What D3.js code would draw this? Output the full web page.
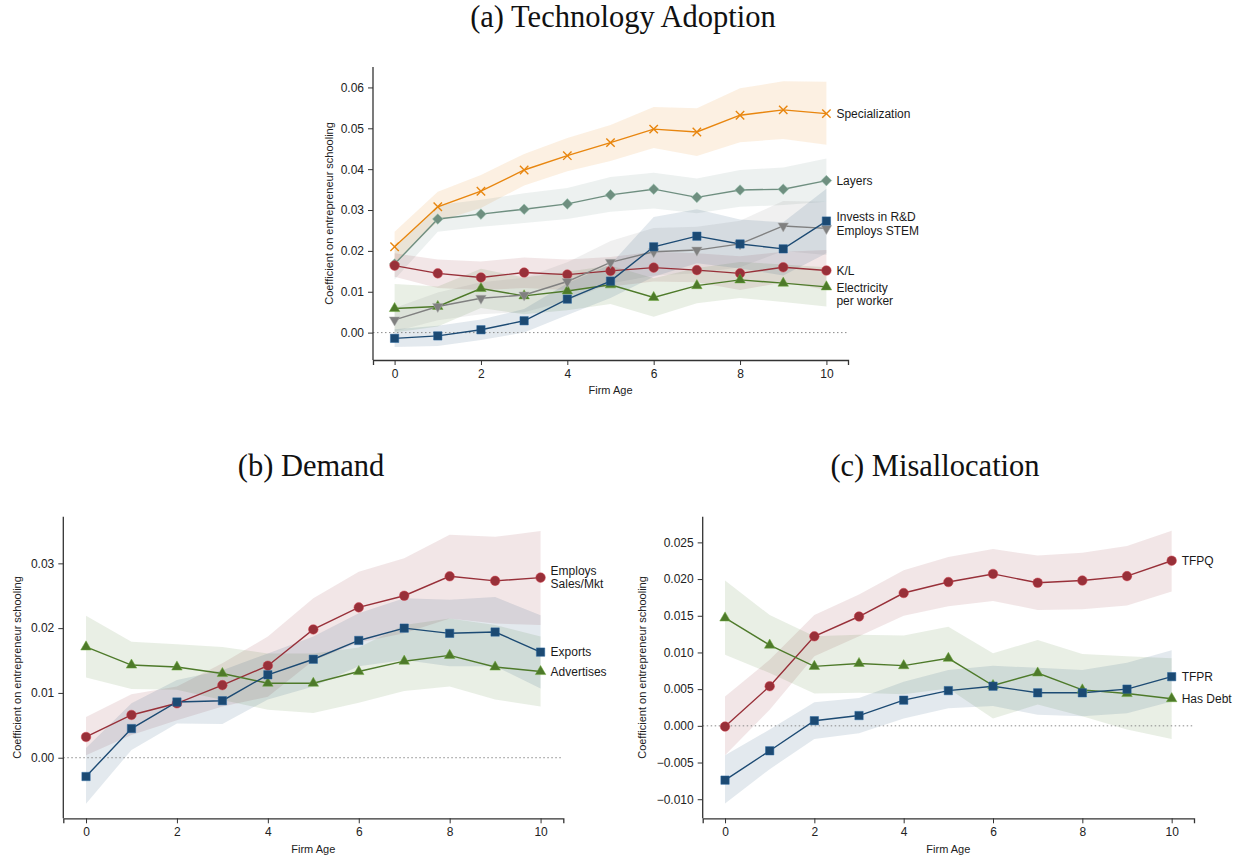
<!DOCTYPE html>
<html>
<head>
<meta charset="utf-8">
<script src="https://cdn.jsdelivr.net/npm/d3@7"></script>
<style>
  html, body { margin: 0; padding: 0; background: #fff; }
  svg { display: block; }
</style>
</head>
<body>
<svg id="chart" width="1244" height="857"></svg>
<script>
// Firm age (years since entry)
const firmAge = [0, 1, 2, 3, 4, 5, 6, 7, 8, 9, 10];

// ---- (a) Technology Adoption: coefficient, lower CI, upper CI ----
const specialization   = [0.0210, 0.0308, 0.0346, 0.0398, 0.0433, 0.0465, 0.0498, 0.0491, 0.0532, 0.0545, 0.0536];
const specializationLo = [0.0170, 0.0272, 0.0305, 0.0360, 0.0395, 0.0420, 0.0452, 0.0432, 0.0466, 0.0474, 0.0460];
const specializationHi = [0.0247, 0.0345, 0.0386, 0.0437, 0.0476, 0.0508, 0.0552, 0.0549, 0.0598, 0.0615, 0.0614];

const layers   = [0.0168, 0.0278, 0.0290, 0.0302, 0.0315, 0.0337, 0.0351, 0.0331, 0.0349, 0.0351, 0.0372];
const layersLo = [0.0130, 0.0247, 0.0259, 0.0268, 0.0278, 0.0296, 0.0304, 0.0292, 0.0308, 0.0312, 0.0320];
const layersHi = [0.0206, 0.0312, 0.0325, 0.0341, 0.0354, 0.0381, 0.0391, 0.0377, 0.0398, 0.0404, 0.0426];

const capitalLabor   = [0.0164, 0.0145, 0.0135, 0.0147, 0.0142, 0.0151, 0.0159, 0.0153, 0.0145, 0.0160, 0.0152];
const capitalLaborLo = [0.0137, 0.0109, 0.0104, 0.0109, 0.0104, 0.0113, 0.0125, 0.0123, 0.0104, 0.0123, 0.0105];
const capitalLaborHi = [0.0194, 0.0179, 0.0174, 0.0184, 0.0179, 0.0185, 0.0198, 0.0194, 0.0187, 0.0198, 0.0202];

const investsRD   = [-0.0014, -0.0008, 0.0007, 0.0029, 0.0082, 0.0126, 0.0210, 0.0236, 0.0217, 0.0205, 0.0273];
const investsRDLo = [-0.0035, -0.0033, -0.0018, 0.0000, 0.0043, 0.0085, 0.0137, 0.0170, 0.0157, 0.0140, 0.0194];
const investsRDHi = [0.0008, 0.0017, 0.0032, 0.0058, 0.0121, 0.0167, 0.0283, 0.0302, 0.0277, 0.0270, 0.0352];

const employsSTEM   = [0.0031, 0.0064, 0.0084, 0.0092, 0.0125, 0.0172, 0.0198, 0.0202, 0.0217, 0.0261, 0.0255];
const employsSTEMLo = [0.0003, 0.0030, 0.0045, 0.0050, 0.0078, 0.0120, 0.0140, 0.0145, 0.0160, 0.0200, 0.0190];
const employsSTEMHi = [0.0060, 0.0098, 0.0123, 0.0134, 0.0172, 0.0224, 0.0256, 0.0259, 0.0274, 0.0322, 0.0320];

const electricity   = [0.0059, 0.0064, 0.0108, 0.0090, 0.0102, 0.0117, 0.0086, 0.0115, 0.0129, 0.0121, 0.0112];
const electricityLo = [0.0000, 0.0015, 0.0060, 0.0045, 0.0055, 0.0070, 0.0039, 0.0072, 0.0085, 0.0075, 0.0064];
const electricityHi = [0.0119, 0.0113, 0.0156, 0.0135, 0.0149, 0.0164, 0.0133, 0.0158, 0.0173, 0.0167, 0.0160];

// ---- (b) Demand ----
const salesMkt   = [0.0032, 0.0066, 0.0084, 0.0112, 0.0142, 0.0198, 0.0232, 0.0250, 0.0280, 0.0273, 0.0278];
const salesMktLo = [0.0004, 0.0035, 0.0058, 0.0079, 0.0094, 0.0150, 0.0178, 0.0192, 0.0215, 0.0207, 0.0205];
const salesMktHi = [0.0063, 0.0098, 0.0110, 0.0146, 0.0187, 0.0246, 0.0287, 0.0308, 0.0344, 0.0341, 0.0350];

const exportsCoef = [-0.0029, 0.0045, 0.0086, 0.0088, 0.0128, 0.0152, 0.0181, 0.0200, 0.0192, 0.0194, 0.0163];
const exportsLo   = [-0.0071, 0.0012, 0.0053, 0.0052, 0.0090, 0.0110, 0.0141, 0.0151, 0.0141, 0.0141, 0.0107];
const exportsHi   = [0.0015, 0.0084, 0.0120, 0.0135, 0.0161, 0.0187, 0.0223, 0.0246, 0.0244, 0.0248, 0.0220];

const advertises   = [0.0171, 0.0143, 0.0140, 0.0130, 0.0115, 0.0115, 0.0133, 0.0149, 0.0158, 0.0140, 0.0133];
const advertisesLo = [0.0124, 0.0106, 0.0105, 0.0089, 0.0074, 0.0069, 0.0085, 0.0103, 0.0110, 0.0090, 0.0079];
const advertisesHi = [0.0219, 0.0179, 0.0175, 0.0171, 0.0161, 0.0161, 0.0170, 0.0205, 0.0215, 0.0205, 0.0187];

// ---- (c) Misallocation ----
const tfpq   = [-0.0001, 0.0054, 0.0122, 0.0149, 0.0181, 0.0196, 0.0207, 0.0195, 0.0198, 0.0204, 0.0225];
const tfpqLo = [-0.0040, 0.0022, 0.0095, 0.0122, 0.0150, 0.0163, 0.0170, 0.0158, 0.0159, 0.0164, 0.0183];
const tfpqHi = [0.0040, 0.0090, 0.0151, 0.0179, 0.0212, 0.0230, 0.0241, 0.0232, 0.0236, 0.0245, 0.0266];

const tfpr   = [-0.0074, -0.0034, 0.0007, 0.0014, 0.0035, 0.0048, 0.0054, 0.0045, 0.0045, 0.0050, 0.0067];
const tfprLo = [-0.0106, -0.0059, -0.0018, -0.0010, 0.0010, 0.0024, 0.0027, 0.0015, 0.0013, 0.0017, 0.0033];
const tfprHi = [-0.0040, -0.0005, 0.0032, 0.0038, 0.0060, 0.0076, 0.0082, 0.0079, 0.0076, 0.0086, 0.0103];

const hasDebt   = [0.0147, 0.0110, 0.0081, 0.0085, 0.0082, 0.0092, 0.0055, 0.0072, 0.0049, 0.0044, 0.0037];
const hasDebtLo = [0.0097, 0.0072, 0.0044, 0.0045, 0.0043, 0.0051, 0.0010, 0.0029, 0.0013, -0.0005, -0.0018];
const hasDebtHi = [0.0198, 0.0151, 0.0122, 0.0124, 0.0123, 0.0135, 0.0099, 0.0117, 0.0098, 0.0095, 0.0092];

// Tick values
const xTicks  = [0, 2, 4, 6, 8, 10];
const yTicksA = [0, 0.01, 0.02, 0.03, 0.04, 0.05, 0.06];
const yTicksB = [0, 0.01, 0.02, 0.03];
const yTicksC = [-0.010, -0.005, 0, 0.005, 0.010, 0.015, 0.020, 0.025];

// Titles and axis labels
const titles = ["(a) Technology Adoption", "(b) Demand", "(c) Misallocation"];
const xLabel = "Firm Age";
const yLabel = "Coefficient on entrepreneur schooling";

// ---------------------------------------------------------------------
const COLORS = {
  orange: "#e8860f",
  sage:   "#6f8f80",
  red:    "#983039",
  blue:   "#1c4a73",
  gray:   "#808080",
  green:  "#4e7a2a"
};

const svg = d3.select("#chart");
svg.append("rect").attr("width", 1244).attr("height", 857).attr("fill", "#fff");

const panels = [
  {
    title: titles[0], titleX: 623, titleY: 27,
    x0: 373, x1: 848, yBottom: 360, yTop: 67,
    yDomain: [-0.0067, 0.065], yTicks: yTicksA, yFmt: d3.format(".2f"),
    xLabelY: 394, yLabelX: 333,
    series: [
      { name: ["Specialization"], v: specialization, lo: specializationLo, hi: specializationHi, color: COLORS.orange, marker: "x", nudge: 0 },
      { name: ["Layers"], v: layers, lo: layersLo, hi: layersHi, color: COLORS.sage, marker: "diamond", nudge: 0 },
      { name: ["K/L"], v: capitalLabor, lo: capitalLaborLo, hi: capitalLaborHi, color: COLORS.red, marker: "circle", nudge: 0 },
      { name: ["Electricity", "per worker"], v: electricity, lo: electricityLo, hi: electricityHi, color: COLORS.green, marker: "triangle", nudge: 1, firstLineAtPoint: true },
      { name: ["Employs STEM"], v: employsSTEM, lo: employsSTEMLo, hi: employsSTEMHi, color: COLORS.gray, marker: "triangleDown", nudge: 2 },
      { name: ["Invests in R&D"], v: investsRD, lo: investsRDLo, hi: investsRDHi, color: COLORS.blue, marker: "square", nudge: -4 }
    ]
  },
  {
    title: titles[1], titleX: 311, titleY: 476,
    x0: 63.3, x1: 563.3, yBottom: 818.3, yTop: 516.7,
    yDomain: [-0.00935, 0.0372], yTicks: yTicksB, yFmt: d3.format(".2f"),
    xLabelY: 853, yLabelX: 21,
    series: [
      { name: ["Employs", "Sales/Mkt"], v: salesMkt, lo: salesMktLo, hi: salesMktHi, color: COLORS.red, marker: "circle", nudge: 0 },
      { name: ["Advertises"], v: advertises, lo: advertisesLo, hi: advertisesHi, color: COLORS.green, marker: "triangle", nudge: 0 },
      { name: ["Exports"], v: exportsCoef, lo: exportsLo, hi: exportsHi, color: COLORS.blue, marker: "square", nudge: 0 }
    ]
  },
  {
    title: titles[2], titleX: 935, titleY: 476,
    x0: 702.7, x1: 1194, yBottom: 818.3, yTop: 516.7,
    yDomain: [-0.0126, 0.0285], yTicks: yTicksC, yFmt: d3.format(".3f"),
    xLabelY: 853, yLabelX: 646,
    series: [
      { name: ["TFPQ"], v: tfpq, lo: tfpqLo, hi: tfpqHi, color: COLORS.red, marker: "circle", nudge: 0 },
      { name: ["Has Debt"], v: hasDebt, lo: hasDebtLo, hi: hasDebtHi, color: COLORS.green, marker: "triangle", nudge: 0 },
      { name: ["TFPR"], v: tfpr, lo: tfprLo, hi: tfprHi, color: COLORS.blue, marker: "square", nudge: 0 }
    ]
  }
];

function drawMarker(g, type, color) {
  const outline = d3.color(color).brighter(0.9);
  if (type === "x") {
    const s = 4.2;
    g.append("path")
      .attr("d", `M${-s},${-s}L${s},${s}M${-s},${s}L${s},${-s}`)
      .attr("stroke", color).attr("stroke-width", 1.4).attr("fill", "none");
    return;
  }
  let path, rot = 0;
  if (type === "circle") path = d3.symbol(d3.symbolCircle, 72)();
  else if (type === "square") path = d3.symbol(d3.symbolSquare, 70)();
  else if (type === "diamond") { path = d3.symbol(d3.symbolSquare, 56)(); rot = 45; }
  else if (type === "triangle") path = d3.symbol(d3.symbolTriangle, 48)();
  else if (type === "triangleDown") { path = d3.symbol(d3.symbolTriangle, 48)(); rot = 180; }
  g.append("path")
    .attr("d", path)
    .attr("transform", rot ? `rotate(${rot})` : null)
    .attr("fill", color)
    .attr("stroke", outline).attr("stroke-opacity", 0.6).attr("stroke-width", 0.8);
}

panels.forEach(p => {
  const x = d3.scaleLinear().domain([-0.5, 10.5]).range([p.x0, p.x1]);
  const y = d3.scaleLinear().domain(p.yDomain).range([p.yBottom, p.yTop]);
  const g = svg.append("g");

  // Title
  svg.append("text")
    .attr("x", p.titleX).attr("y", p.titleY)
    .attr("text-anchor", "middle")
    .attr("font-family", "'Liberation Serif', 'DejaVu Serif', serif")
    .attr("font-size", 30.5)
    .attr("fill", "#111")
    .text(p.title);

  // Confidence bands
  const area = d3.area()
    .x((d, i) => x(firmAge[i]))
    .y0(d => y(d[0]))
    .y1(d => y(d[1]));
  p.series.forEach(s => {
    const band = s.lo.map((lo, i) => [lo, s.hi[i]]);
    g.append("path")
      .datum(band)
      .attr("d", area)
      .attr("fill", s.color)
      .attr("fill-opacity", 0.12);
  });

  // Zero reference line
  g.append("line")
    .attr("x1", p.x0).attr("x2", p.x1)
    .attr("y1", y(0)).attr("y2", y(0))
    .attr("stroke", "#8a8a8a").attr("stroke-width", 1)
    .attr("stroke-dasharray", "1.5,2.5");

  // Lines and markers
  const line = d3.line().x((d, i) => x(firmAge[i])).y(d => y(d));
  p.series.forEach(s => {
    g.append("path")
      .datum(s.v)
      .attr("d", line)
      .attr("fill", "none")
      .attr("stroke", s.color)
      .attr("stroke-width", 1.4);
  });
  p.series.forEach(s => {
    s.v.forEach((v, i) => {
      const m = g.append("g").attr("transform", `translate(${x(firmAge[i])},${y(v)})`);
      drawMarker(m, s.marker, s.color);
    });
  });

  // Series labels at the right end
  p.series.forEach(s => {
    const last = s.v[s.v.length - 1];
    const lx = x(firmAge[firmAge.length - 1]) + 10;
    const lineH = 13;
    const n = s.name.length;
    const startOffset = s.firstLineAtPoint ? 0 : -(n - 1) * lineH / 2;
    const t = g.append("text")
      .attr("x", lx)
      .attr("y", y(last) + s.nudge + startOffset)
      .attr("font-family", "'Liberation Sans', Arial, sans-serif")
      .attr("font-size", 12)
      .attr("fill", "#1a1a1a");
    s.name.forEach((ln, k) => {
      t.append("tspan")
        .attr("x", lx)
        .attr("y", y(last) + s.nudge + startOffset + k * lineH)
        .attr("dy", "0.35em")
        .text(ln);
    });
  });

  // Axes
  const xAxis = d3.axisBottom(x).tickValues(xTicks).tickSizeOuter(0).tickSize(5).tickPadding(4);
  const yAxis = d3.axisLeft(y).tickValues(p.yTicks).tickFormat(p.yFmt).tickSizeOuter(0).tickSize(5).tickPadding(4);

  const gx = svg.append("g").attr("transform", `translate(0,${p.yBottom})`).call(xAxis);
  const gy = svg.append("g").attr("transform", `translate(${p.x0},0)`).call(yAxis);
  [gx, gy].forEach(ax => {
    ax.select(".domain").attr("stroke", "#333").attr("stroke-width", 1.3);
    ax.selectAll(".tick line").attr("stroke", "#333").attr("stroke-width", 1);
    ax.selectAll(".tick text")
      .attr("font-family", "'Liberation Sans', Arial, sans-serif")
      .attr("font-size", 12)
      .attr("fill", "#222");
  });
  // y-axis line spans full plot height
  gy.select(".domain").attr("d", `M0,${p.yBottom}V${p.yTop}`);

  // Axis titles
  svg.append("text")
    .attr("x", (p.x0 + p.x1) / 2).attr("y", p.xLabelY)
    .attr("text-anchor", "middle")
    .attr("font-family", "'Liberation Sans', Arial, sans-serif")
    .attr("font-size", 11)
    .attr("fill", "#222")
    .text(xLabel);
  svg.append("text")
    .attr("transform", `translate(${p.yLabelX},${(p.yBottom + p.yTop) / 2}) rotate(-90)`)
    .attr("text-anchor", "middle")
    .attr("font-family", "'Liberation Sans', Arial, sans-serif")
    .attr("font-size", 11)
    .attr("fill", "#222")
    .text(yLabel);
});
</script>
</body>
</html>
